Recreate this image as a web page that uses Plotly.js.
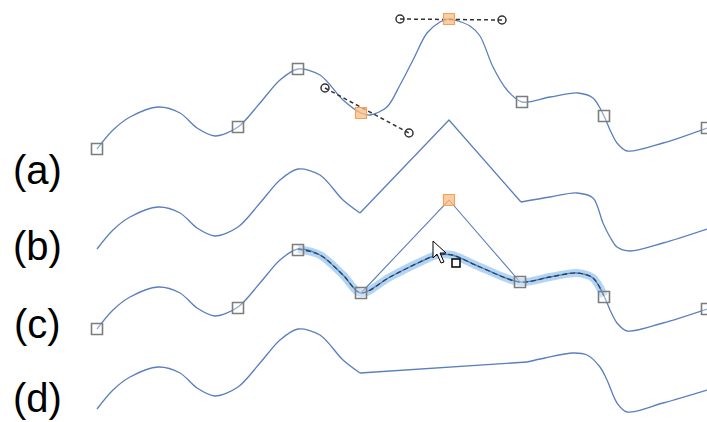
<!DOCTYPE html>
<html>
<head>
<meta charset="utf-8">
<script src="https://cdn.plot.ly/plotly-3.0.1.min.js"></script>
<style>html,body{margin:0;padding:0;background:#fff;}#chart{width:707px;height:422px;}</style>
</head>
<body>
<div id="chart"></div>
<script>
// ---- data (x to the right, y downward) ----
const labels = ["(a)", "(b)", "(c)", "(d)"];
const labelX = [37, 37, 37, 37];
const labelY = [170, 246, 324, 398];

// (a) original curve
const aX = [97,113,130,158,180,197,215,238,260,280,298,320,343,361,370,387,400,413,427,440,449,458,470,480,493,507,522,550,578,593,604,610,617,627,663,707];
const aY = [149,130,117,107,113,128,136,127,103,80,69,75,100,113,115,107,85,60,33,22,19,21,26,36,67,90,102,97,93,98,116,130,143,151,143,128];
const aNodeX = [97,238,298,522,604,707];
const aNodeY = [149,127,69,102,116,128];
const aSelX = [361,449];
const aSelY = [113,19];
const handle1X = [325,409], handle1Y = [88,133];
const handle2X = [400,502], handle2Y = [19,20];

// (b) corner node
const bLeftX = [97,113,130,158,180,197,215,238,260,280,298,320,343,360];
const bLeftY = [249,230,217,207,213,228,236,227,203,180,169,175,200,213];
const bMidX = [360,449,521];
const bMidY = [213,120,202];
const bRightX = [521,550,577,593,603,610,617,630,663,707];
const bRightY = [202,197,193,198,223,237,247,251,243,229];

// (c) dragging a segment
const cX = [97,113,130,158,180,197,215,238,260,280,298,320,343,361,390,420,437,452,480,520,550,577,593,604,610,617,627,663,707];
const cY = [329,310,297,287,293,308,316,307,283,260,249,255,275,293,277,262,255,255,267,282,277,273,278,296,310,323,331,323,309];
const cHiX = [298,320,343,361,390,420,437,452,480,520,550,577,593,604];
const cHiY = [249,255,275,293,277,262,255,255,267,282,277,273,278,296];
const cGuideX = [361,449,520];
const cGuideY = [293,200,282];
const cNodeX = [97,238,298,361,520,604,707];
const cNodeY = [329,308,250,293,282,297,309];
const cSelX = [449], cSelY = [200];
const cursorX = [433,433,437,441,444,440,446,433];
const cursorY = [241,258,254,263,262,253,253,241];
const tagX = [456], tagY = [263];

// (d) node removed
const dLeftX = [97,113,130,158,180,197,215,238,260,280,298,320,343,360];
const dLeftY = [409,390,377,367,373,388,396,387,363,340,329,335,360,373];
const dMidX = [360,527];
const dMidY = [373,362];
const dRightX = [527,545,573,587,600,607,617,627,663,707];
const dRightY = [362,358,353,355,367,380,403,412,403,390];

// ---- styles ----
const curveColor = '#5a7fbd';
const curveW = 1.3;
function curve(x, y, shape) {
  return {x: x, y: y, type: 'scatter', mode: 'lines', hoverinfo: 'skip',
          line: {color: curveColor, width: curveW, shape: shape || 'spline', smoothing: 0.9}};
}
function nodes(x, y) {
  return {x: x, y: y, type: 'scatter', mode: 'markers', hoverinfo: 'skip',
          marker: {symbol: 'square', size: 11, color: 'rgba(255,255,255,0.35)',
                   line: {color: '#7d7d7d', width: 1.6}}};
}
function selNodes(x, y) {
  return {x: x, y: y, type: 'scatter', mode: 'markers', hoverinfo: 'skip',
          marker: {symbol: 'square', size: 11, color: 'rgba(250,190,130,0.75)',
                   line: {color: '#f2a25a', width: 1.2}}};
}
function handle(x, y) {
  return {x: x, y: y, type: 'scatter', mode: 'lines+markers', hoverinfo: 'skip',
          line: {color: '#333', width: 1.5, dash: '4px,3px'},
          marker: {symbol: 'circle-open', size: 8, color: '#333', line: {width: 1.5}}};
}

const traces = [
  curve(aX, aY),
  handle(handle1X, handle1Y),
  handle(handle2X, handle2Y),
  nodes(aNodeX, aNodeY),
  selNodes(aSelX, aSelY),

  curve(bLeftX, bLeftY),
  curve(bMidX, bMidY, 'linear'),
  curve(bRightX, bRightY),

  {x: cHiX, y: cHiY, type: 'scatter', mode: 'lines', hoverinfo: 'skip',
   line: {color: 'rgba(125,185,235,0.6)', width: 8, shape: 'spline', smoothing: 0.9}},
  curve(cX, cY),
  {x: cHiX, y: cHiY, type: 'scatter', mode: 'lines', hoverinfo: 'skip',
   line: {color: '#2c3e5c', width: 1.3, dash: '5px,3px', shape: 'spline', smoothing: 0.9}},
  {x: cGuideX, y: cGuideY, type: 'scatter', mode: 'lines', hoverinfo: 'skip',
   line: {color: curveColor, width: 1.1}},
  nodes(cNodeX, cNodeY),
  selNodes(cSelX, cSelY),
  {x: cursorX, y: cursorY, type: 'scatter', mode: 'lines', fill: 'toself', hoverinfo: 'skip',
   fillcolor: '#ffffff', line: {color: '#000', width: 1}},
  {x: tagX, y: tagY, type: 'scatter', mode: 'markers', hoverinfo: 'skip',
   marker: {symbol: 'square', size: 8, color: '#fff', line: {color: '#000', width: 1.5}}},

  curve(dLeftX, dLeftY),
  curve(dMidX, dMidY, 'linear'),
  curve(dRightX, dRightY)
];

const annotations = labels.map((t, i) => ({
  x: labelX[i], y: labelY[i], xref: 'x', yref: 'y', text: t, showarrow: false,
  font: {family: 'Liberation Sans, Arial, sans-serif', size: 40, color: '#000'}
}));

const layout = {
  width: 707, height: 422,
  margin: {l: 0, r: 0, t: 0, b: 0},
  paper_bgcolor: '#fff', plot_bgcolor: '#fff',
  showlegend: false,
  xaxis: {range: [0, 707], visible: false, fixedrange: true},
  yaxis: {range: [422, 0], visible: false, fixedrange: true},
  annotations: annotations
};

Plotly.newPlot('chart', traces, layout, {staticPlot: true, displayModeBar: false});
</script>
</body>
</html>
